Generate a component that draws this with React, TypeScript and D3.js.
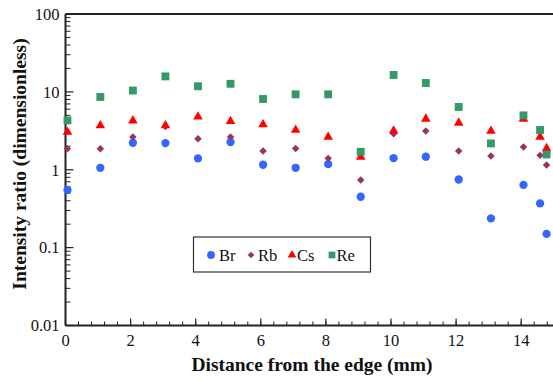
import React from "react";
import * as d3 from "d3";

const distances = [0.06, 1.07, 2.07, 3.07, 4.07, 5.07, 6.07, 7.07, 8.07, 9.07, 10.08, 11.07, 12.08, 13.07, 14.07, 14.58, 14.78];
const brValues = [0.55, 1.06, 2.22, 2.2, 1.4, 2.27, 1.16, 1.06, 1.18, 0.45, 1.41, 1.47, 0.75, 0.237, 0.64, 0.37, 0.15];
const rbValues = [1.86, 1.86, 2.63, 3.6, 2.5, 2.63, 1.74, 1.88, 1.4, 0.74, 2.9, 3.14, 1.74, 1.5, 1.96, 1.53, 1.15];
const csValues = [3.05, 3.7, 4.27, 3.7, 4.8, 4.2, 3.8, 3.24, 2.63, 1.46, 3.17, 4.5, 4.0, 3.14, 4.5, 2.63, 1.88];
const reValues = [4.3, 8.6, 10.4, 15.8, 11.8, 12.7, 8.1, 9.3, 9.3, 1.7, 16.5, 13.0, 6.4, 2.18, 4.99, 3.24, 1.57];

const seriesNames = ["Br", "Rb", "Cs", "Re"];
const yTickLabels = ["0.01", "0.1", "1", "10", "100"];
const xTickLabels = ["0", "2", "4", "6", "8", "10", "12", "14"];

const colors: Record<string, string> = { Br: "#3366ff", Rb: "#993366", Cs: "#ff0000", Re: "#339966" };
const shapes: Record<string, d3.SymbolType> = {
  Br: d3.symbolCircle,
  Rb: d3.symbolSquare,
  Cs: d3.symbolTriangle,
  Re: d3.symbolSquare,
};
const sizes: Record<string, number> = { Br: 54, Rb: 28, Cs: 40, Re: 62 };
const legendSizes: Record<string, number> = { Br: 48, Rb: 22, Cs: 32, Re: 46 };

const FONT = "'Liberation Serif'";
const ts: React.CSSProperties = { fontFamily: FONT };

export default function App() {
  const W = 553, H = 381;
  const left = 65.5, top = 14, bottom = 325.5;
  const x = d3.scaleLinear().domain([0, 15]).range([left, left + 32.55 * 15]);
  const y = d3.scaleLog().domain([0.01, 100]).range([bottom, top]);

  const valuesBy: Record<string, number[]> = { Br: brValues, Rb: rbValues, Cs: csValues, Re: reValues };

  const yMinor: number[] = [];
  for (let e = -2; e < 2; e++) for (let m = 2; m <= 9; m++) yMinor.push(m * Math.pow(10, e));
  const xMinor: number[] = [];
  for (let i = 0; i <= 37; i++) xMinor.push(+(i * 0.4).toFixed(2));

  const sym = (name: string, s: number) => d3.symbol().type(shapes[name]).size(s)()!;
  const rot = (name: string) => (name === "Rb" ? " rotate(45)" : "");

  const legendX = [211, 251, 292, 332];
  const legendTextX = [219, 258, 297, 336.5];

  return (
    <svg width={W} height={H} style={{ position: "absolute", left: 0, top: 0, fontFamily: FONT }}>
      <rect width={W} height={H} fill="#fff" />
      {yMinor.map((v, i) => (
        <line key={"ym" + i} x1={left} x2={left + 5} y1={y(v)} y2={y(v)} stroke="#222" strokeWidth={1} />
      ))}
      {yTickLabels.map((t) => (
        <g key={"yt" + t}>
          <line x1={left} x2={left + 8} y1={y(+t)} y2={y(+t)} stroke="#222" strokeWidth={1.2} />
          <text x={59.5} y={y(+t)} dy="0.35em" textAnchor="end" fontSize={16.5} fill="#111" style={ts}>{t}</text>
        </g>
      ))}
      {xMinor.map((v, i) => (
        <line key={"xm" + i} x1={x(v)} x2={x(v)} y1={bottom} y2={bottom - 4} stroke="#222" strokeWidth={1} />
      ))}
      {xTickLabels.map((t) => (
        <g key={"xt" + t}>
          <line x1={x(+t)} x2={x(+t)} y1={bottom} y2={bottom - 7} stroke="#222" strokeWidth={1.2} />
          <text x={x(+t)} y={346} textAnchor="middle" fontSize={16.5} fill="#111" style={ts}>{t}</text>
        </g>
      ))}
      <line x1={left} x2={W} y1={top} y2={top} stroke="#222" strokeWidth={2} />
      <line x1={left} x2={W} y1={bottom} y2={bottom} stroke="#222" strokeWidth={2} />
      <line x1={left} x2={left} y1={top} y2={bottom} stroke="#222" strokeWidth={2} />

      {seriesNames.map((name) => (
        <g key={name} fill={colors[name]}>
          {valuesBy[name].map((v, i) => (
            <path key={i} d={sym(name, sizes[name])} transform={`translate(${x(distances[i])},${y(v)})${rot(name)}`} />
          ))}
        </g>
      ))}

      <rect x={193.5} y={237} width={177} height={35} fill="#fff" stroke="#333" strokeWidth={1.2} />
      {seriesNames.map((name, i) => (
        <g key={"lg" + name}>
          <path d={sym(name, legendSizes[name])} transform={`translate(${legendX[i]},255)${rot(name)}`} fill={colors[name]} />
          <text x={legendTextX[i]} y={260.5} fontSize={16.5} fill="#111" style={ts}>{name}</text>
        </g>
      ))}

      <text x={312} y={370.5} textAnchor="middle" fontSize={19.5} fontWeight="bold" fill="#111" style={ts}>Distance from the edge (mm)</text>
      <text transform={`translate(26,164) rotate(-90)`} textAnchor="middle" fontSize={19.5} fontWeight="bold" fill="#111" style={ts}>Intensity ratio (dimensionless)</text>
    </svg>
  );
}
